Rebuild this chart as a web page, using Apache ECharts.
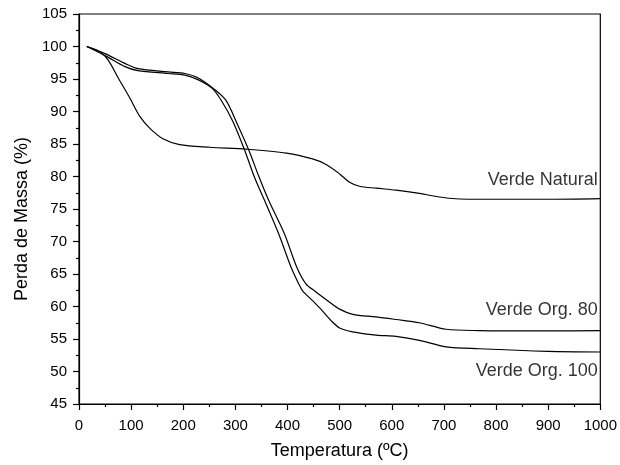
<!DOCTYPE html>
<html>
<head>
<meta charset="utf-8">
<script src="https://cdn.jsdelivr.net/npm/echarts@6/dist/echarts.min.js"></script>
<style>html,body{margin:0;padding:0;background:#fff}#c{width:620px;height:465px}</style>
</head>
<body>
<div id="c"></div>
<script>
const naturalTemp = [15, 40, 56, 75, 98, 117, 136, 161, 193, 251, 321, 398, 448, 474, 500, 519, 538, 570, 608, 653, 680, 710, 748, 800, 900, 1000];
const naturalMass = [100, 99.2, 97.9, 95.2, 92.0, 89.2, 87.4, 85.8, 84.9, 84.5, 84.2, 83.6, 82.7, 81.85, 80.4, 79.1, 78.5, 78.2, 77.9, 77.4, 77.0, 76.65, 76.5, 76.5, 76.5, 76.6];

const org80Temp = [15, 50, 88, 113, 171, 203, 228, 260, 282, 304, 326, 345, 364, 394, 418, 436, 452, 477, 500, 525, 570, 608, 653, 704, 767, 900, 1000];
const org80Mass = [100, 98.9, 97.4, 96.6, 96.1, 95.85, 95.2, 93.4, 91.7, 88.0, 84.0, 80.0, 76.3, 71.2, 66.0, 63.4, 62.4, 60.9, 59.6, 58.8, 58.4, 58.0, 57.5, 56.5, 56.3, 56.25, 56.3];

const org100Temp = [15, 50, 88, 113, 171, 203, 228, 255, 273, 295, 318, 336, 356, 383, 407, 422, 429, 448, 464, 484, 500, 525, 570, 608, 653, 704, 767, 900, 1000];
const org100Mass = [100, 98.6, 96.9, 96.3, 95.85, 95.6, 94.9, 93.6, 91.7, 88.5, 84.0, 80.0, 76.3, 71.2, 66.0, 63.4, 62.4, 60.9, 59.6, 57.8, 56.7, 56.1, 55.6, 55.4, 54.8, 53.8, 53.5, 53.1, 53.0];

const curveLabels = ['Verde Natural', 'Verde Org. 80', 'Verde Org. 100'];
const labelX = [995, 995, 995];
const labelY = [79.4, 59.5, 50.1];

const xTitle = 'Temperatura (ºC)';
const yTitle = 'Perda de Massa (%)';

const zip = (a, b) => a.map((v, i) => [v, b[i]]);
const font = '"Liberation Sans", Arial, sans-serif';

const lineSeries = (name, data) => ({
  name, type: 'line', data, symbol: 'none', smooth: 0.3,
  lineStyle: { color: '#000', width: 1.2 }, silent: true
});

const chart = echarts.init(document.getElementById('c'), null, { renderer: 'canvas' });
chart.setOption({
  animation: false,
  backgroundColor: '#fff',
  grid: { left: 79, right: 17, top: 14, bottom: 61, show: true, borderColor: '#000', borderWidth: 1.2 },
  xAxis: {
    type: 'value', min: 0, max: 1000, interval: 100,
    name: xTitle, nameLocation: 'middle', nameGap: 38,
    nameTextStyle: { fontFamily: font, fontSize: 18, color: '#000' },
    axisLine: { lineStyle: { color: '#000', width: 1.2 } },
    axisTick: { show: true, length: 6, lineStyle: { color: '#000', width: 1.2 } },
    minorTick: { show: true, splitNumber: 2, length: 3, lineStyle: { color: '#000', width: 1.2 } },
    axisLabel: { fontFamily: font, fontSize: 15, color: '#000', margin: 14, formatter: v => String(v) },
    splitLine: { show: false }
  },
  yAxis: {
    type: 'value', min: 45, max: 105, interval: 5,
    name: yTitle, nameLocation: 'middle', nameGap: 46,
    nameTextStyle: { fontFamily: font, fontSize: 18, color: '#000', padding: [0, 20, 0, 0] },
    axisLine: { lineStyle: { color: '#000', width: 1.2 } },
    axisTick: { show: true, length: 6, lineStyle: { color: '#000', width: 1.2 } },
    minorTick: { show: true, splitNumber: 2, length: 3, lineStyle: { color: '#000', width: 1.2 } },
    axisLabel: { fontFamily: font, fontSize: 15, color: '#000', margin: 12, formatter: v => String(v) },
    splitLine: { show: false }
  },
  series: [
    lineSeries('Verde Natural', zip(naturalTemp, naturalMass)),
    lineSeries('Verde Org. 80', zip(org80Temp, org80Mass)),
    lineSeries('Verde Org. 100', zip(org100Temp, org100Mass)),
    {
      type: 'scatter', symbolSize: 0, silent: true,
      data: curveLabels.map((t, i) => ({ value: [labelX[i], labelY[i]], name: t })),
      label: {
        show: true, position: 'left', distance: 0,
        formatter: p => p.name,
        fontFamily: font, fontSize: 18, color: '#000', textBorderWidth: 0
      }
    }
  ]
});
</script>
</body>
</html>
